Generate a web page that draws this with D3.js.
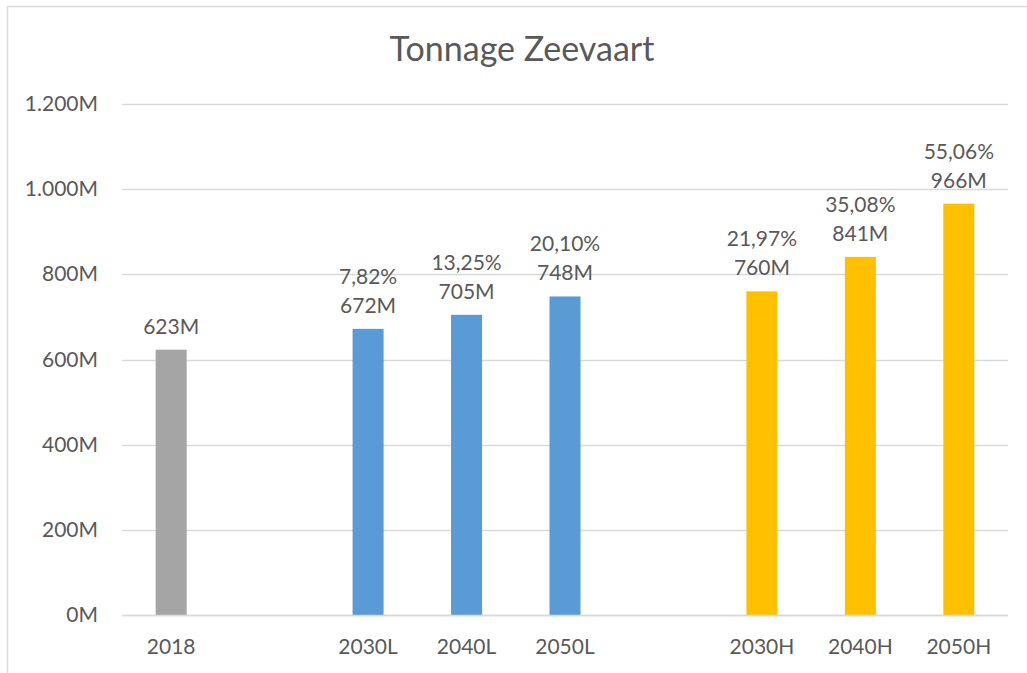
<!DOCTYPE html>
<html>
<head>
<meta charset="utf-8">
<script src="https://cdn.jsdelivr.net/npm/d3@7"></script>
<style>
  body { margin: 0; background: #fff; }
  text { font-family: Lato, "Open Sans", sans-serif; fill: #595959; }
</style>
</head>
<body>
<svg class="chart" width="1027" height="673"></svg>
<script>
// data, empty slots are the gaps between the groups
var categories = ["2018", "", "2030L", "2040L", "2050L", "", "2030H", "2040H", "2050H"];
var tonnage = [623, null, 672, 705, 748, null, 760, 841, 966];
var growth = ["", "", "7,82%", "13,25%", "20,10%", "", "21,97%", "35,08%", "55,06%"];
var scenario = ["base", "", "low", "low", "low", "", "high", "high", "high"];
var yTicks = [0, 200, 400, 600, 800, 1000, 1200];

var colors = { base: "#a5a5a5", low: "#5b9bd5", high: "#ffc000" };

var nl = d3.formatLocale({ decimal: ",", thousands: ".", grouping: [3], currency: ["€", ""] });
var fmt = nl.format(",");

var svg = d3.select(".chart");

// frame of the chart area
svg.append("rect")
    .attr("x", 7.5)
    .attr("y", 6.5)
    .attr("width", 1030)
    .attr("height", 700)
    .attr("fill", "#fff")
    .attr("stroke", "#d9d9d9")
    .attr("stroke-width", 1.5);

var x = d3.scaleBand()
    .domain(d3.range(categories.length))
    .range([122, 1008])
    .paddingInner(0.685)
    .paddingOuter(0.342);

var y = d3.scaleLinear()
    .domain([0, 1200])
    .range([615, 104]);

// gridlines
svg.append("g")
    .selectAll("line")
    .data(yTicks)
    .join("line")
    .attr("x1", 122)
    .attr("x2", 1008)
    .attr("y1", d => Math.round(y(d)) + 0.5)
    .attr("y2", d => Math.round(y(d)) + 0.5)
    .attr("stroke", "#d9d9d9")
    .attr("stroke-width", 1.5);

// y tick labels
svg.append("g")
    .selectAll("text")
    .data(yTicks)
    .join("text")
    .attr("x", 98)
    .attr("y", d => y(d) + 7)
    .attr("text-anchor", "end")
    .style("font-size", "21px")
    .text(d => fmt(d) + "M");

var slots = d3.range(categories.length).filter(i => tonnage[i] != null);

// bars
svg.append("g")
    .selectAll("rect")
    .data(slots)
    .join("rect")
    .attr("x", i => x(i))
    .attr("width", x.bandwidth())
    .attr("y", i => y(tonnage[i]))
    .attr("height", i => y(0) - y(tonnage[i]))
    .attr("fill", i => colors[scenario[i]]);

// redraw the base line over the bars
svg.append("line")
    .attr("x1", 122)
    .attr("x2", 1008)
    .attr("y1", Math.round(y(0)) + 0.5)
    .attr("y2", Math.round(y(0)) + 0.5)
    .attr("stroke", "#d9d9d9")
    .attr("stroke-width", 1.5);

// category labels
svg.append("g")
    .selectAll("text")
    .data(slots)
    .join("text")
    .attr("x", i => x(i) + x.bandwidth() / 2)
    .attr("y", 654)
    .attr("text-anchor", "middle")
    .style("font-size", "21px")
    .text(i => categories[i]);

// data labels: value, with growth line above
var labels = svg.append("g")
    .selectAll("text")
    .data(slots)
    .join("text")
    .attr("text-anchor", "middle")
    .style("font-size", "21px");

labels.append("tspan")
    .attr("x", i => x(i) + x.bandwidth() / 2)
    .attr("y", i => y(tonnage[i]) - 45)
    .text(i => growth[i]);

labels.append("tspan")
    .attr("x", i => x(i) + x.bandwidth() / 2)
    .attr("y", i => y(tonnage[i]) - 16)
    .text(i => fmt(tonnage[i]) + "M");

// title
svg.append("text")
    .attr("x", 522)
    .attr("y", 61)
    .attr("text-anchor", "middle")
    .style("font-size", "34px")
    .text("Tonnage Zeevaart");
</script>
</body>
</html>
